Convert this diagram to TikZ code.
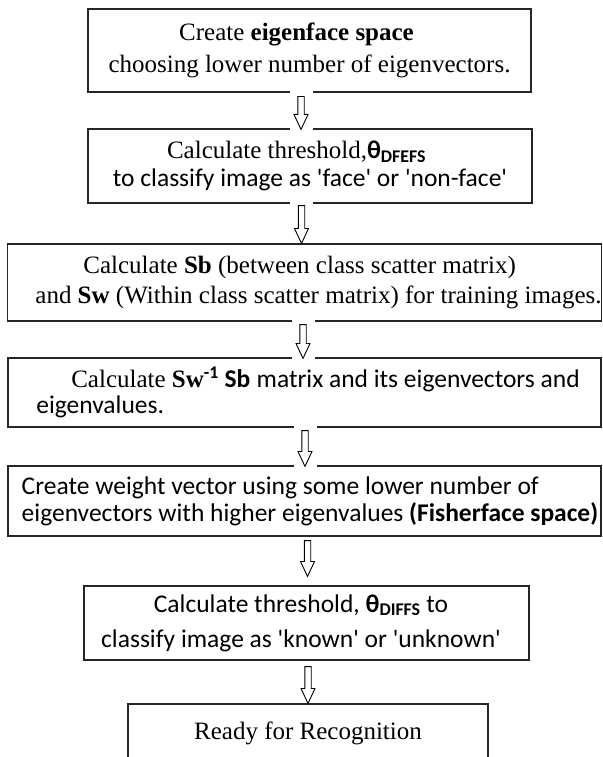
\documentclass[tikz,border=0pt]{standalone}
\usepackage{fontspec}
\setmainfont{Liberation Serif}
\setsansfont{Carlito}[Ligatures=TeXOff,Scale=1.02]
\usetikzlibrary{calc}

\begin{document}
\begin{tikzpicture}[x=1pt,y=1pt,
  box/.style={draw=black!85,line width=1.1pt,inner sep=0pt},
  gap/.style={fill=white},
  hollow/.style={draw=black,line width=0.9pt,fill=white,
    to path={let \p1=(\tikztostart),\p2=(\tikztotarget) in
      (\x1-3.2pt,\y1) -- (\x1+3.2pt,\y1) -- (\x1+3.2pt,\y2+15pt) -- (\x1+7pt,\y2+15pt)
      -- (\x1,\y2) -- (\x1-7pt,\y2+15pt) -- (\x1-3.2pt,\y2+15pt) -- cycle}}]
  \useasboundingbox (0,0) rectangle (602,-757);

  \node[box,minimum width=443,minimum height=83,align=center,
        font=\fontsize{25}{32}\selectfont] (eig) at (309.5,-50.5)
    {Create \textbf{eigenface space}\hspace*{26pt}\null\\
     choosing lower number of eigenvectors.};
  \node[box,minimum width=444,minimum height=74,align=center,
        font=\fontsize{25}{28}\selectfont] (dfefs) at (310,-166)
    {Calculate threshold,{\sffamily\bfseries θ\textsubscript{DFEFS}}\hspace*{27pt}\null\\
     \sffamily to classify image as 'face' or 'non-face'};
  \node[box,minimum width=593,minimum height=77,align=left,
        font=\fontsize{25}{30}\selectfont] (sbsw) at (304.5,-282.5)
    {\hspace*{76pt}Calculate \textbf{Sb} (between class scatter matrix)\\
     \hspace*{28pt}and \textbf{Sw} (Within class scatter matrix) for training images.};
  \node[box,minimum width=593,minimum height=69,align=left,
        font=\fontsize{25}{26}\selectfont] (inv) at (304.5,-392.5)
    {\hspace*{42pt}Calculate \textbf{Sw}{\sffamily\bfseries\textsuperscript{-1} Sb}
     \sffamily matrix and its eigenvectors and\\
     \sffamily\hspace*{7pt}eigenvalues.};
  \node[box,minimum width=593,minimum height=70,align=left,
        font=\fontsize{25}{27}\sffamily\selectfont] (fisher) at (304.5,-501)
    {\hspace*{11pt}Create weight vector using some lower number of\\
     \hspace*{11pt}eigenvectors with higher eigenvalues \textbf{(Fisherface space)}};
  \node[box,minimum width=445,minimum height=74,align=center,
        font=\fontsize{25}{35}\sffamily\selectfont] (diffs) at (306.5,-623)
    {Calculate threshold, {\bfseries θ\textsubscript{DIFFS}} to\hspace*{11pt}\null\\
     classify image as 'known' or 'unknown'\hspace*{11pt}\null};
  \node[box,minimum width=360,minimum height=58,
        font=\fontsize{25}{30}\selectfont] (ready) at (308,-733)
    {Ready for Recognition};

  % white cuts in the box lines
  \foreach \p/\dx in {eig.south/-8.5, dfefs.north/-9, dfefs.south/-8.5,
                      sbsw.south/-1.5, inv.north/-1.5, inv.south/0.5, fisher.north/0.5}
    \fill[gap] ($(\p)+(\dx-11.5,-2.5)$) rectangle ($(\p)+(\dx+11.5,2.5)$);

  \draw[hollow] ($(eig.south)+(-8.5,-4)$) to ($(dfefs.north)+(-9,-1)$);
  \draw[hollow] ($(dfefs.south)+(-8.5,-2)$) to ($(sbsw.north)+(-3,0)$);
  \draw[hollow] ($(sbsw.south)+(-1.5,-3)$) to ($(inv.north)+(-1.5,-1)$);
  \draw[hollow] ($(inv.south)+(0.5,-3)$) to ($(fisher.north)+(0.5,-1)$);
  \draw[hollow] ($(fisher.south)+(3,-4)$) to ($(diffs.north)+(3,9)$);
  \draw[hollow] ($(diffs.south)+(1.5,-6)$) to ($(ready.north)+(1.5,0)$);
\end{tikzpicture}
\end{document}
